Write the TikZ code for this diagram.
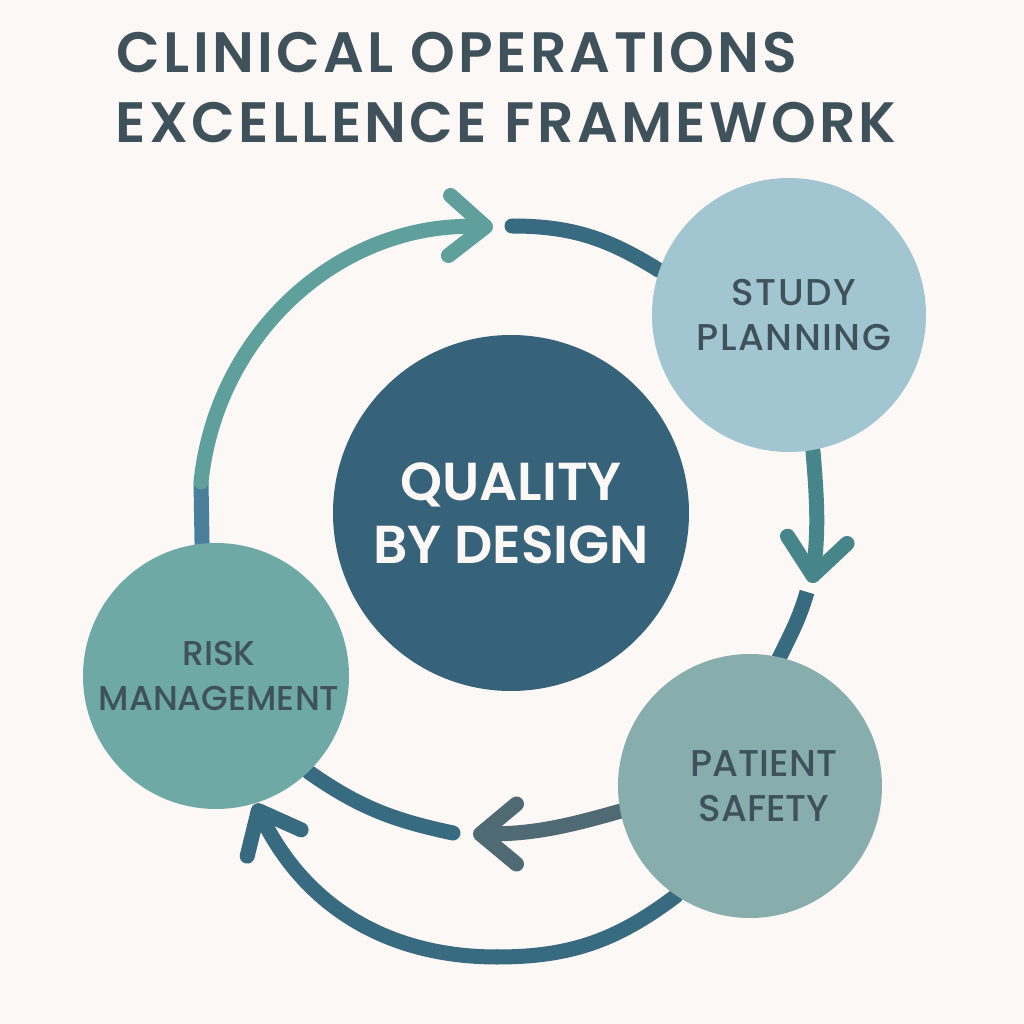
\documentclass[tikz,border=0pt]{standalone}
\usepackage{fontspec}
\setmainfont{Poppins}[BoldFont=* SemiBold]
\newfontfamily\labelfont{Poppins}[UprightFont=* Medium]
\usetikzlibrary{arrows.meta}
\pgfdeclarelayer{links}
\pgfsetlayers{links,main}
\definecolor{paper}{HTML}{FBF8F5}
\definecolor{ink}{HTML}{3F515B}
\definecolor{corecol}{HTML}{36627A}
\definecolor{studycol}{HTML}{A1C6D2}
\definecolor{patientcol}{HTML}{88ADAD}
\definecolor{riskcol}{HTML}{6FA9A5}
\definecolor{tealline}{HTML}{5F9F9C}
\definecolor{blueline}{HTML}{4A7F9B}
\definecolor{midline}{HTML}{46858A}
\definecolor{darkline}{HTML}{386A80}
\definecolor{greyline}{HTML}{4F6A72}
\tikzset{
	stage/.style={circle,inner sep=-8mm,align=center,text=ink,font=\labelfont\fontsize{10.6}{12.8}\selectfont},
	heading/.style={anchor=base west,inner sep=0pt,text=ink,font=\fontsize{16.2}{20}\selectfont\bfseries\addfontfeatures{LetterSpace=5.8}},
	link/.style={line width=1.5mm,line cap=round},
	flat/.style={line width=1.5mm,line cap=butt},
	barb/.style={-{Straight Barb[round,length=3.6mm,width=6mm]}}
}
\begin{document}
\begin{tikzpicture}[line join=round]
	\node[heading](titleA)at(1.16,9.51){CLINICAL OPERATIONS};
	\node[heading](titleB)at(1.15,8.81){EXCELLENCE FRAMEWORK};
	\node[circle,fill=corecol,minimum size=3.56cm,inner sep=-8mm,align=center,text=paper,font=\fontsize{15.2}{17.9}\selectfont\bfseries](core)at(5.11,5.11){QUALITY\\BY DESIGN};
	\node[stage,fill=studycol,minimum size=2.74cm,font=\labelfont\fontsize{10.6}{12.8}\selectfont\addfontfeatures{LetterSpace=4}](study)at(7.89,7.09){\hspace*{1mm}STUDY\\\hspace*{1mm}PLANNING};
	\node[stage,fill=patientcol,minimum size=2.64cm](patient)at(7.50,2.38){\hspace*{2.8mm}PATIENT\\\hspace*{2.8mm}SAFETY};
	\node[stage,fill=riskcol,minimum size=2.66cm,font=\labelfont\fontsize{9.8}{12.8}\selectfont](risk)at(2.16,3.48){\hspace*{.6mm}RISK\\\hspace*{.6mm}MANAGEMENT};
	\coordinate(turnA)at(2.01,5.42);
	\coordinate(tipA)at(4.93,7.97);
	\coordinate(tailB)at(5.12,7.98);
	\coordinate(tipC)at(8.12,4.41);
	\coordinate(tailD)at(8.07,4.32);
	\coordinate(tipE)at(4.73,1.90);
	\coordinate(tailF)at(4.53,1.91);
	\coordinate(lowG)at(4.97,0.67);
	\begin{pgfonlayer}{links}
	\useasboundingbox[fill=paper](0,0)rectangle(10.24,10.24);
	\draw[flat,blueline,shorten <=-1mm](risk.96)--(turnA);
	\draw[link,tealline,barb](turnA)to[out=84,in=178](tipA);
	\draw[link,darkline](tailB)to[out=0,in=148](study.161);
	\draw[link,midline,barb](study.-80)to[out=-85,in=83](tipC);
	\draw[flat,darkline,shorten >=-1mm](tailD)to[out=-106,in=64](patient.77);
	\draw[link,greyline,barb](patient.191)to[out=196,in=0](tipE);
	\draw[link,darkline](tailF)to[out=168,in=-35](risk.-46);
	\draw[link,darkline](patient.236)to[out=217,in=0](lowG);
	\draw[link,darkline,barb](lowG)to[out=180,in=-64](risk.-73);
	\end{pgfonlayer}
\end{tikzpicture}
\end{document}
